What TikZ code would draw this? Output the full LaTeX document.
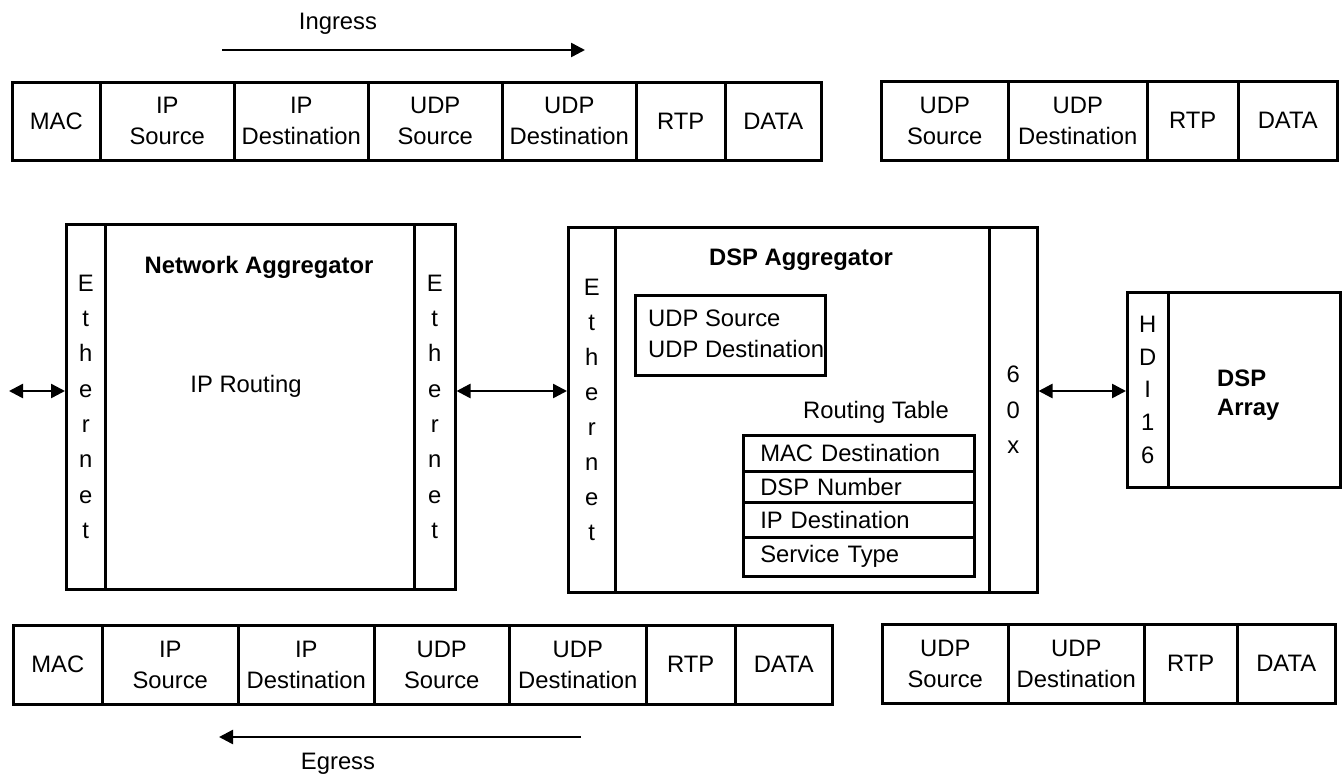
\documentclass[tikz,border=0pt]{standalone}
\usepackage{fontspec}
\setmainfont{Liberation Sans}
\usetikzlibrary{arrows.meta}
\newcommand\pkcell[6]{\node[cell, anchor=north west, minimum width={#3-#2}, minimum height={#5-#4}] (#1) at (#2,#4) {#6};}
\begin{document}
\begin{tikzpicture}[x=1pt,y=-1pt,
  cell/.style={draw, line width=2.5pt, inner sep=0pt, align=center, font=\fontsize{23.8}{31}\selectfont},
  txt/.style={inner sep=0pt, font=\fontsize{23.8}{31}\selectfont},
  boldtxt/.style={inner sep=0pt, font=\fontsize{23.8}{29}\selectfont\bfseries},
  flow/.style={line width=2.5pt, -{Triangle[length=14pt,width=14pt]}},
  biarrow/.style={line width=2.5pt, {Triangle[length=14pt,width=14pt]}-{Triangle[length=14pt,width=14pt]}},
]
\useasboundingbox (0,0) rectangle (1343,774);

% Ingress
\node[txt, anchor=base] (ingress) at (338,29) {Ingress};
\coordinate (ingA) at (222,50);
\coordinate (ingB) at (585,50);
\draw[flow] (ingA) -- (ingB);

% top packet 1
\pkcell{t1}{11}{99}{81}{159}{MAC}
\pkcell{t2}{99}{233}{81}{159}{IP\\Source}
\pkcell{t3}{233}{367}{81}{159}{IP\\Destination}
\pkcell{t4}{367}{501}{81}{159}{UDP\\Source}
\pkcell{t5}{501}{635}{81}{159}{UDP\\Destination}
\pkcell{t6}{635}{724}{81}{159}{RTP}
\pkcell{t7}{724}{820}{81}{159}{DATA}
% top packet 2
\pkcell{u1}{880}{1007}{80}{159}{UDP\\Source}
\pkcell{u2}{1007}{1146}{80}{159}{UDP\\Destination}
\pkcell{u3}{1146}{1237}{80}{159}{RTP}
\pkcell{u4}{1237}{1336}{80}{159}{DATA}

% Network Aggregator
\node[cell, anchor=north west, minimum width=39, minimum height=365, font=\fontsize{23.8}{35.3}\selectfont] (naL) at (65,223) {E\\t\\h\\e\\r\\n\\e\\t};
\node[cell, anchor=north west, minimum width=309, minimum height=365] (naM) at (104,223) {};
\node[cell, anchor=north west, minimum width=41, minimum height=365, font=\fontsize{23.8}{35.3}\selectfont] (naR) at (413,223) {E\\t\\h\\e\\r\\n\\e\\t};
\node[boldtxt, anchor=base] (natitle) at (259,273) {Network Aggregator};
\node[txt, anchor=base] (iprouting) at (246,392) {IP Routing};

% DSP Aggregator
\node[cell, anchor=north west, minimum width=47, minimum height=365, font=\fontsize{23.8}{35.1}\selectfont] (dspL) at (567,226) {E\\t\\h\\e\\r\\n\\e\\t};
\node[cell, anchor=north west, minimum width=374, minimum height=365] (dspM) at (614,226) {};
\node[cell, anchor=north west, minimum width=48, minimum height=365, font=\fontsize{23.8}{35.5}\selectfont] (dspR) at (988,226) {6\\0\\x};
\node[boldtxt, anchor=base] (dsptitle) at (801,265) {DSP Aggregator};
\node[cell, anchor=north west, minimum width=190, minimum height=80] (udpbox) at (634,294) {};
\node[txt, anchor=west, align=left] (udptxt) at (648,333.5) {UDP Source\\UDP Destination};
\node[txt, anchor=base] (rtlabel) at (876,418) {Routing Table};
\node[cell, anchor=north west, minimum width=231, minimum height=36, text width=197, align=left] (rt1) at (742,434) {MAC Destination};
\node[cell, anchor=north west, minimum width=231, minimum height=31, text width=197, align=left] (rt2) at (742,470) {DSP Number};
\node[cell, anchor=north west, minimum width=231, minimum height=35, text width=197, align=left] (rt3) at (742,501) {IP Destination};
\node[cell, anchor=north west, minimum width=231, minimum height=39, text width=197, align=left] (rt4) at (742,536) {Service Type};

% DSP Array
\node[cell, anchor=north west, minimum width=41, minimum height=195, font=\fontsize{23.8}{32.8}\selectfont] (hdi) at (1126,291) {H\\D\\I\\1\\6};
\node[cell, anchor=north west, minimum width=172, minimum height=195] (arr) at (1167,291) {};
\node[boldtxt, anchor=west, align=left] (arrtxt) at (1217,395) {DSP\\Array};

% bidirectional links
\coordinate (ay) at (0,391);
\coordinate (lin) at (9,391);
\draw[biarrow] (lin) -- (lin -| naL.west);
\draw[biarrow] (naR.east |- ay) -- (dspL.west |- ay);
\draw[biarrow] (dspR.east |- ay) -- (hdi.west |- ay);

% bottom packet 1
\pkcell{b1}{12}{101}{624}{703}{MAC}
\pkcell{b2}{101}{237}{624}{703}{IP\\Source}
\pkcell{b3}{237}{373}{624}{703}{IP\\Destination}
\pkcell{b4}{373}{508}{624}{703}{UDP\\Source}
\pkcell{b5}{508}{645}{624}{703}{UDP\\Destination}
\pkcell{b6}{645}{734}{624}{703}{RTP}
\pkcell{b7}{734}{831}{624}{703}{DATA}
% bottom packet 2
\pkcell{v1}{881}{1007}{623}{702}{UDP\\Source}
\pkcell{v2}{1007}{1143}{623}{702}{UDP\\Destination}
\pkcell{v3}{1143}{1236}{623}{702}{RTP}
\pkcell{v4}{1236}{1334}{623}{702}{DATA}

% Egress
\coordinate (egA) at (581,737);
\coordinate (egB) at (219,737);
\draw[flow] (egA) -- (egB);
\node[txt, anchor=base] (egress) at (338,769) {Egress};
\end{tikzpicture}
\end{document}
